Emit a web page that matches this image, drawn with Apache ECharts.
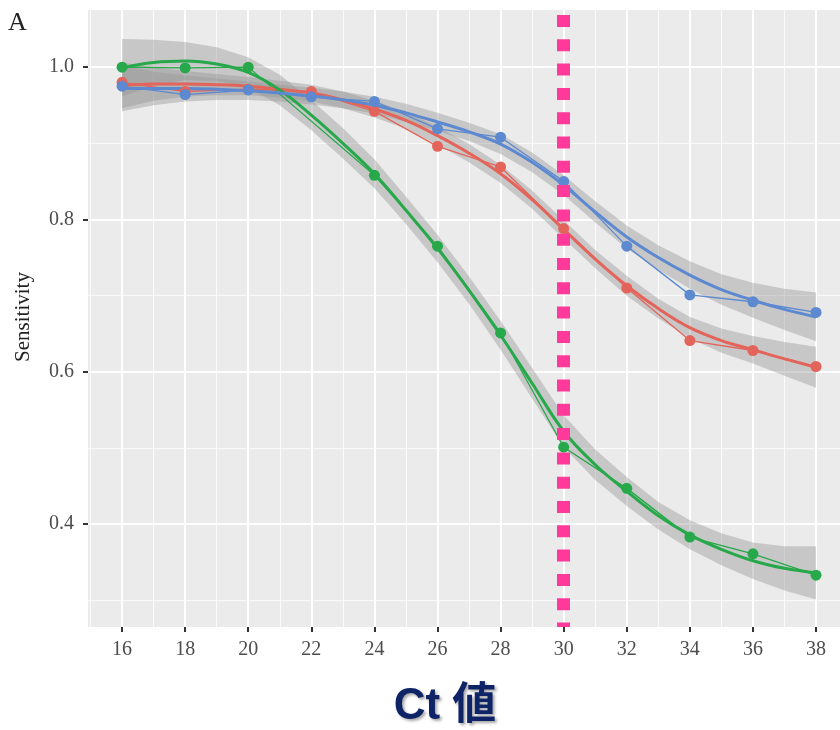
<!DOCTYPE html>
<html><head><meta charset="utf-8">
<script src="https://cdn.jsdelivr.net/npm/echarts@6/dist/echarts.min.js"></script>
<style>html,body{margin:0;padding:0;background:#fff}#c{width:840px;height:730px}</style>
</head><body><div id="c"></div>
<script>
// ---- raw observed points ----
const ctValues = [16, 18, 20, 22, 24, 26, 28, 30, 32, 34, 36, 38];
const redValues   = [0.980, 0.968, 0.971, 0.968, 0.942, 0.896, 0.869, 0.788, 0.710, 0.641, 0.628, 0.607];
const blueValues  = [0.975, 0.964, 0.970, 0.961, 0.955, 0.919, 0.908, 0.850, 0.765, 0.701, 0.692, 0.678];
const greenValues = [1.000, 0.999, 1.000, null, 0.858, 0.765, 0.651, 0.501, 0.447, 0.383, 0.361, 0.333];

// ---- smoothed fits and ribbon half-widths ----
const fitCt = [16,17,18,19,20,21,22,23,24,25,26,27,28,29,30,31,32,33,34,35,36,37,38];
const redFit   = [0.976,0.978,0.978,0.977,0.975,0.971,0.966,0.957,0.945,0.930,0.910,0.887,0.860,0.826,0.787,0.748,0.713,0.683,0.658,0.641,0.629,0.617,0.606];
const redSe    = [0.030,0.022,0.017,0.014,0.012,0.011,0.011,0.011,0.011,0.011,0.012,0.012,0.012,0.012,0.012,0.012,0.013,0.013,0.014,0.016,0.018,0.022,0.027];
const blueFit  = [0.972,0.972,0.972,0.971,0.969,0.966,0.962,0.957,0.950,0.940,0.928,0.915,0.899,0.875,0.845,0.810,0.777,0.750,0.727,0.708,0.694,0.682,0.672];
const blueSe   = [0.030,0.022,0.017,0.014,0.012,0.011,0.011,0.011,0.011,0.012,0.012,0.012,0.013,0.013,0.013,0.014,0.015,0.016,0.018,0.020,0.023,0.027,0.032];
const greenFit = [0.999,1.006,1.008,1.004,0.993,0.970,0.937,0.900,0.860,0.812,0.762,0.707,0.648,0.585,0.522,0.478,0.443,0.411,0.386,0.367,0.352,0.342,0.336];
const greenSe  = [0.038,0.030,0.025,0.022,0.020,0.020,0.020,0.020,0.019,0.018,0.018,0.018,0.019,0.020,0.021,0.020,0.019,0.018,0.019,0.021,0.024,0.029,0.035];

// ---- ticks ----
const xTickValues = [16, 18, 20, 22, 24, 26, 28, 30, 32, 34, 36, 38];
const xMinorValues = [15, 17, 19, 21, 23, 25, 27, 29, 31, 33, 35, 37];
const yTickValues = [0.4, 0.6, 0.8, 1.0];
const yMinorValues = [0.3, 0.5, 0.7, 0.9];
const cutoffCt = 30;

const COLORS = { red: '#E3645A', blue: '#5C89D0', green: '#27A84A' };
const RIBBON = 'rgba(150,150,150,0.42)';
const SERIF = '"Liberation Serif", "DejaVu Serif", serif';

function pairs(xs, ys) { return xs.map((x, i) => [x, ys[i]]); }

function rawSeries(name, ys, color) {
  return {
    name: name, type: 'line', data: pairs(ctValues, ys), connectNulls: true,
    symbol: 'circle', symbolSize: 11, showSymbol: true,
    lineStyle: { color: color, width: 1.3 }, itemStyle: { color: color },
    silent: true, z: 2
  };
}
function ribbonSeries(fit, se) {
  return {
    type: 'custom', silent: true, z: 2, clip: true,
    data: pairs(fitCt, fit),
    encode: { x: 0, y: 1 },
    renderItem: function (params, api) {
      if (params.dataIndex !== 0) return null;
      const up = fitCt.map((x, i) => api.coord([x, fit[i] + se[i]]));
      const lo = fitCt.map((x, i) => api.coord([x, fit[i] - se[i]])).reverse();
      return { type: 'polygon', shape: { points: up.concat(lo) }, style: { fill: RIBBON } };
    }
  };
}
function fitSeries(fit, color) {
  return { type: 'line', data: pairs(fitCt, fit), smooth: 0.4, symbol: 'none',
    lineStyle: { color: color, width: 3 }, silent: true, z: 2 };
}

const blueFitSeries = fitSeries(blueFit, COLORS.blue);
blueFitSeries.markLine = {
  silent: true, symbol: ['none', 'none'], label: { show: false }, animation: false,
  lineStyle: { color: '#FF3A9B', width: 13, type: [12, 12.3], dashOffset: 7.5, cap: 'butt' },
  data: [{ xAxis: cutoffCt }]
};

const X_MIN = 14.92, X_MAX = 38.76;
const chart = echarts.init(document.getElementById('c'), null, { renderer: 'canvas' });
chart.setOption({
  animation: false,
  backgroundColor: '#ffffff',
  grid: { left: 88, top: 10, right: 0, bottom: 103, show: true, backgroundColor: '#EBEBEB', borderWidth: 0, containLabel: false },
  xAxis: [
    { type: 'value', min: X_MIN, max: X_MAX, position: 'bottom',
      axisLine: { show: false },
      axisTick: { show: true, customValues: xTickValues, length: 5, lineStyle: { color: '#333', width: 2 } },
      axisLabel: { customValues: xTickValues, fontFamily: SERIF, fontSize: 20, color: '#4D4D4D', margin: 13 },
      splitLine: { show: true, lineStyle: { color: '#FFFFFF', width: 2 } } },
    { type: 'value', min: X_MIN, max: X_MAX, position: 'bottom',
      axisLine: { show: false },
      axisTick: { show: false, customValues: xMinorValues },
      axisLabel: { show: false },
      splitLine: { show: true, lineStyle: { color: 'rgba(255,255,255,0.8)', width: 1 } } }
  ],
  yAxis: [
    { type: 'value', min: 0.265, max: 1.075,
      axisLine: { show: false },
      axisTick: { show: true, customValues: yTickValues, length: 5, lineStyle: { color: '#333', width: 2 } },
      axisLabel: { customValues: yTickValues, formatter: v => v.toFixed(1), fontFamily: SERIF, fontSize: 20, color: '#4D4D4D', margin: 14 },
      splitLine: { show: true, lineStyle: { color: '#FFFFFF', width: 2 } } },
    { type: 'value', min: 0.265, max: 1.075, position: 'left',
      axisLine: { show: false },
      axisTick: { show: false, customValues: yMinorValues },
      axisLabel: { show: false },
      splitLine: { show: true, lineStyle: { color: 'rgba(255,255,255,0.8)', width: 1 } } }
  ],
  series: [
    rawSeries('red', redValues, COLORS.red),
    rawSeries('green', greenValues, COLORS.green),
    rawSeries('blue', blueValues, COLORS.blue),
    ribbonSeries(redFit, redSe),
    fitSeries(redFit, COLORS.red),
    ribbonSeries(greenFit, greenSe),
    fitSeries(greenFit, COLORS.green),
    ribbonSeries(blueFit, blueSe),
    blueFitSeries
  ],
  graphic: [
    { type: 'text', left: 8, top: 10, style: { text: 'A', font: '26px ' + SERIF, fill: '#222' } },
    { type: 'text', x: 23, y: 317, rotation: Math.PI / 2,
      style: { text: 'Sensitivity', font: '21px ' + SERIF, fill: '#222', textAlign: 'center', textVerticalAlign: 'middle' } },
    { type: 'text', x: 445, y: 707,
      style: { text: 'Ct 値', font: 'bold 44px "Liberation Sans", Arial, "Noto Sans CJK JP", sans-serif', fill: '#0F2466',
        textAlign: 'center', textVerticalAlign: 'middle', textShadowColor: 'rgba(0,0,0,0.35)', textShadowBlur: 3, textShadowOffsetX: 2, textShadowOffsetY: 2 } }
  ]
});
</script>
</body></html>
